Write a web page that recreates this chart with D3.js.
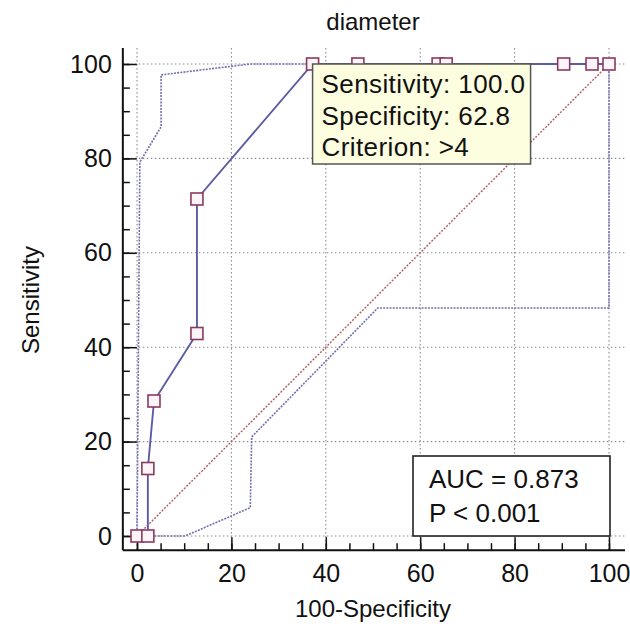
<!DOCTYPE html>
<html>
<head>
<meta charset="utf-8">
<script src="https://cdn.jsdelivr.net/npm/d3@7"></script>
<style>
  body { margin: 0; background: #fff; }
  text { font-family: "Liberation Sans", Arial, sans-serif; fill: #111; }
</style>
</head>
<body>
<svg id="chart" width="630" height="628"></svg>
<script>
// ROC points (100-Specificity, Sensitivity)
const rocX = [0, 2.3, 2.3, 3.6, 12.7, 12.7, 37.2, 46.8, 63.8, 65.5, 90.4, 96.4, 100];
const rocY = [0, 0, 14.3, 28.6, 42.9, 71.4, 100, 100, 100, 100, 100, 100, 100];

// confidence bounds
const upperX = [0, 0.6, 5.1, 5.1, 24, 100];
const upperY = [0, 79.2, 86.7, 97.7, 100, 100];
const lowerX = [2.3, 10.2, 24, 24.3, 51, 100, 100];
const lowerY = [0, 0, 6, 21, 48.3, 48.3, 100];

const ticks = [0, 20, 40, 60, 80, 100];
const tipLines = ["Sensitivity: 100.0", "Specificity: 62.8", "Criterion: >4"];
const aucLines = ["AUC = 0.873", "P < 0.001"];

const svg = d3.select("#chart");
const fs = 25;

let x = d3.scaleLinear().domain([0, 100]).range([137, 609]);
let y = d3.scaleLinear().domain([0, 100]).range([536, 64]);
let lo = -3, hi = 103.4;

// grid
let grid = svg.append("g")
  .attr("stroke", "#8c8c8c")
  .attr("stroke-width", 1.1)
  .attr("stroke-dasharray", "1.5,2.5");
grid.selectAll(".gv").data(ticks).enter().append("line")
  .attr("x1", d => x(d)).attr("x2", d => x(d))
  .attr("y1", y(hi)).attr("y2", y(lo));
grid.selectAll(".gh").data(ticks).enter().append("line")
  .attr("y1", d => y(d)).attr("y2", d => y(d))
  .attr("x1", x(lo)).attr("x2", x(hi));

// axes (ticks point inward)
svg.append("g")
  .attr("transform", "translate(" + x(lo) + ",0)")
  .call(d3.axisLeft(y).tickValues(ticks).tickSizeInner(-14).tickSizeOuter(0).tickPadding(11));
svg.append("g")
  .attr("transform", "translate(" + x(lo) + ",0)")
  .call(d3.axisLeft(y).tickValues(d3.range(0, 101, 5)).tickSizeInner(-7).tickSizeOuter(0).tickFormat(""));
svg.append("g")
  .attr("transform", "translate(0," + y(lo) + ")")
  .call(d3.axisBottom(x).tickValues(ticks).tickSizeInner(-13).tickSizeOuter(0).tickPadding(14));
svg.append("g")
  .attr("transform", "translate(0," + y(lo) + ")")
  .call(d3.axisBottom(x).tickValues(d3.range(0, 101, 5)).tickSizeInner(-7).tickSizeOuter(0).tickFormat(""));

svg.selectAll(".domain").remove();
svg.selectAll(".tick line").attr("stroke", "#111").attr("stroke-width", 1.5);
svg.selectAll(".tick text").style("font-size", fs + "px").attr("fill", "#111");

// axis lines
svg.append("line")
  .attr("x1", x(lo)).attr("x2", x(lo))
  .attr("y1", y(hi)).attr("y2", y(lo))
  .attr("stroke", "#111").attr("stroke-width", 2);
svg.append("line")
  .attr("x1", x(lo)).attr("x2", x(hi))
  .attr("y1", y(lo)).attr("y2", y(lo))
  .attr("stroke", "#111").attr("stroke-width", 2);

// reference diagonal
svg.append("line")
  .attr("x1", x(0)).attr("y1", y(0))
  .attr("x2", x(100)).attr("y2", y(100))
  .attr("stroke", "#b05a5a").attr("stroke-width", 1.4)
  .attr("stroke-dasharray", "2,1.5");

let line = d3.line().x(d => x(d[0])).y(d => y(d[1]));

// confidence bounds
[[upperX, upperY], [lowerX, lowerY]].forEach(function (c) {
  svg.append("path")
    .datum(d3.zip(c[0], c[1]))
    .attr("d", line)
    .attr("fill", "none")
    .attr("stroke", "#7070b0")
    .attr("stroke-width", 1.6)
    .attr("stroke-dasharray", "2,1.2");
});

// ROC curve
let rocPts = d3.zip(rocX, rocY);
svg.append("path")
  .datum(rocPts)
  .attr("d", line)
  .attr("fill", "none")
  .attr("stroke", "#5c5ca4")
  .attr("stroke-width", 1.9);

let ms = 12;
svg.selectAll(".marker").data(rocPts).enter().append("rect")
  .attr("x", d => x(d[0]) - ms / 2)
  .attr("y", d => y(d[1]) - ms / 2)
  .attr("width", ms).attr("height", ms)
  .attr("fill", "#fdf4f7")
  .attr("stroke", "#8a3a5e")
  .attr("stroke-width", 1.6);

// criterion tooltip
let tip = svg.append("g").attr("transform", "translate(" + x(37.2) + "," + y(100) + ")");
tip.append("rect")
  .attr("width", 218).attr("height", 100)
  .attr("fill", "#fdfde0")
  .attr("stroke", "#555").attr("stroke-width", 1.5);
tip.selectAll("text").data(tipLines).enter().append("text")
  .attr("x", 9)
  .attr("y", (d, i) => 29 + i * 31.5)
  .style("font-size", "26px")
  .style("letter-spacing", "0.4px")
  .text(d => d);

// AUC box
let auc = svg.append("g").attr("transform", "translate(413,456)");
auc.append("rect")
  .attr("width", 197).attr("height", 80)
  .attr("fill", "#fff")
  .attr("stroke", "#222").attr("stroke-width", 1.6);
auc.selectAll("text").data(aucLines).enter().append("text")
  .attr("x", 16)
  .attr("y", (d, i) => 32 + i * 34)
  .style("font-size", "26px")
  .text(d => d);

// titles
svg.append("text")
  .attr("x", 373).attr("y", 30)
  .attr("text-anchor", "middle")
  .style("font-size", "24px")
  .text("diameter");
svg.append("text")
  .attr("x", 373).attr("y", 617)
  .attr("text-anchor", "middle")
  .style("font-size", "24px")
  .text("100-Specificity");
svg.append("text")
  .attr("transform", "translate(39,300) rotate(-90)")
  .attr("text-anchor", "middle")
  .style("font-size", "24px")
  .text("Sensitivity");
</script>
</body>
</html>
